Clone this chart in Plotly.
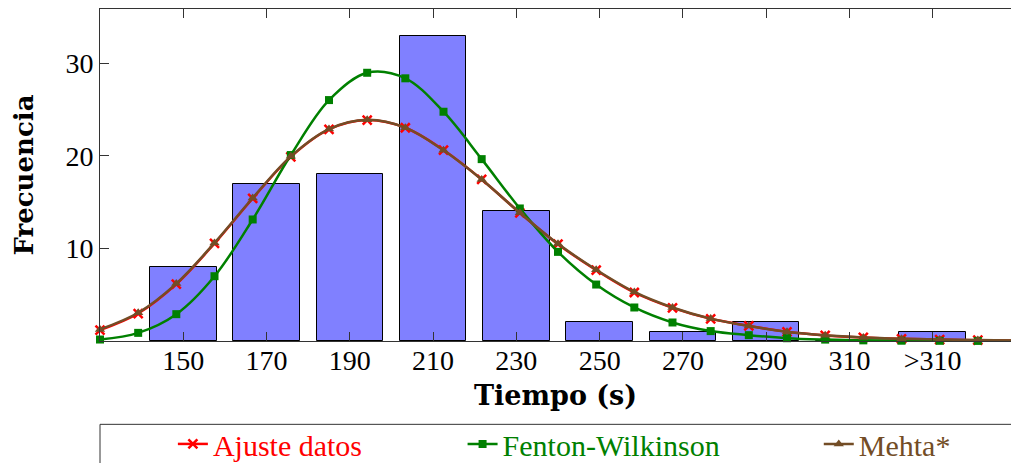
import plotly.graph_objects as go

# ---- data ----
bar_x = [150, 170, 190, 210, 230, 250, 270, 290, 310, 330]
bar_counts = [8, 17, 18, 33, 14, 2, 1, 2, 0, 1]
tick_vals = [150, 170, 190, 210, 230, 250, 270, 290, 310, 330]
tick_text = ["150", "170", "190", "210", "230", "250", "270", "290", "310", ">310"]

sample_x = [130, 139.17, 148.33, 157.5, 166.67, 175.83, 185, 194.17, 203.33, 212.5,
            221.67, 230.83, 240, 249.17, 258.33, 267.5, 276.67, 285.83, 295, 304.17,
            313.33, 322.5, 331.67, 340.83, 350]
ajuste = [1.17, 2.97, 6.14, 10.54, 15.4, 19.9, 22.86, 23.87, 23.04, 20.63,
          17.45, 13.85, 10.46, 7.65, 5.24, 3.58, 2.4, 1.64, 0.99, 0.6,
          0.38, 0.24, 0.15, 0.09, 0.06]
fenton = [0.16, 0.88, 2.9, 7.0, 13.13, 20.09, 26.03, 28.98, 28.38, 24.77,
          19.65, 14.32, 9.63, 6.1, 3.62, 2.0, 1.07, 0.63, 0.3, 0.15,
          0.07, 0.03, 0.02, 0.01, 0.0]
mehta = [1.25, 3.05, 6.2, 10.6, 15.45, 19.95, 22.9, 23.9, 23.05, 20.6,
         17.45, 13.85, 10.5, 7.7, 5.3, 3.62, 2.42, 1.62, 1.0, 0.62,
         0.39, 0.25, 0.16, 0.1, 0.06]

RED = "#ff0000"
GREEN = "#008000"
BROWN = "#734d26"
BAR = "#8080ff"
AX = "#333333"
SERIF = "Liberation Serif"
BOLD = "DejaVu Serif"

fig = go.Figure()
fig.add_trace(go.Bar(x=bar_x, y=bar_counts, width=16, marker=dict(color=BAR, line=dict(color="black", width=1)),
                     showlegend=False))
fig.add_trace(go.Scatter(x=sample_x, y=ajuste, mode="lines+markers", name="Ajuste datos",
                         line=dict(color=RED, width=2.5, shape="spline", smoothing=1),
                         marker=dict(symbol="x-thin", size=9, line=dict(color=RED, width=2.5)),
                         cliponaxis=False, legend="legend"))
fig.add_trace(go.Scatter(x=sample_x, y=fenton, mode="lines+markers", name="Fenton-Wilkinson",
                         line=dict(color=GREEN, width=2.5, shape="spline", smoothing=1),
                         marker=dict(symbol="square", size=8, color=GREEN),
                         cliponaxis=False, legend="legend2"))
fig.add_trace(go.Scatter(x=sample_x, y=mehta, mode="lines+markers", name="Mehta*",
                         line=dict(color=BROWN, width=2.5, shape="spline", smoothing=1),
                         marker=dict(symbol="triangle-up", size=9, color=BROWN),
                         cliponaxis=False, legend="legend3"))

leg_common = dict(orientation="h", yanchor="middle", xanchor="left", y=-0.31,
                  bgcolor="rgba(0,0,0,0)", borderwidth=0)
fig.update_layout(
    width=1011, height=463,
    margin=dict(l=100, r=0, t=9, b=122, autoexpand=False),
    paper_bgcolor="white", plot_bgcolor="white",
    bargap=0,
    xaxis=dict(range=[130, 348.8], tickvals=tick_vals, ticktext=tick_text,
               ticks="inside", ticklen=9, tickcolor=AX, showline=True, linecolor=AX, linewidth=1,
               mirror="ticks", showgrid=False, zeroline=False, automargin=False,
               ticklabelstandoff=-6,
               tickfont=dict(family=SERIF, size=28, color="black"),
               title=dict(text="Tiempo (s)", standoff=11,
                          font=dict(family=BOLD, size=27, color="black", weight="bold"))),
    yaxis=dict(range=[0, 35.87], tickvals=[10, 20, 30],
               ticks="inside", ticklen=9, tickcolor=AX, showline=True, linecolor=AX, linewidth=1,
               showgrid=False, zeroline=False, automargin=False,
               tickfont=dict(family=SERIF, size=28, color="black"),
               title=dict(text="Frecuencia", standoff=24,
                          font=dict(family=BOLD, size=26, color="black", weight="bold"))),
    yaxis2=dict(overlaying="y", side="right", anchor="x", range=[0, 35.87], tickvals=[10, 20, 30],
                ticks="inside", ticklen=5, tickcolor=AX, showticklabels=False, showline=False,
                showgrid=False, zeroline=False, automargin=False),
    legend=dict(x=0.080, font=dict(family=SERIF, size=30, color=RED), **leg_common),
    legend2=dict(x=0.398, font=dict(family=SERIF, size=30, color=GREEN), **leg_common),
    legend3=dict(x=0.789, font=dict(family=SERIF, size=30, color=BROWN), **leg_common),
    shapes=[dict(type="rect", xref="paper", yref="paper", x0=0, x1=1.05, y0=-0.251, y1=-0.6,
                 line=dict(color=AX, width=1), fillcolor="rgba(0,0,0,0)", layer="below")],
)

fig.write_html("out.html", config={"displayModeBar": False},
               post_script="document.body.style.margin='0px';document.body.style.padding='0px';"
                           "document.documentElement.style.overflow='hidden';")
